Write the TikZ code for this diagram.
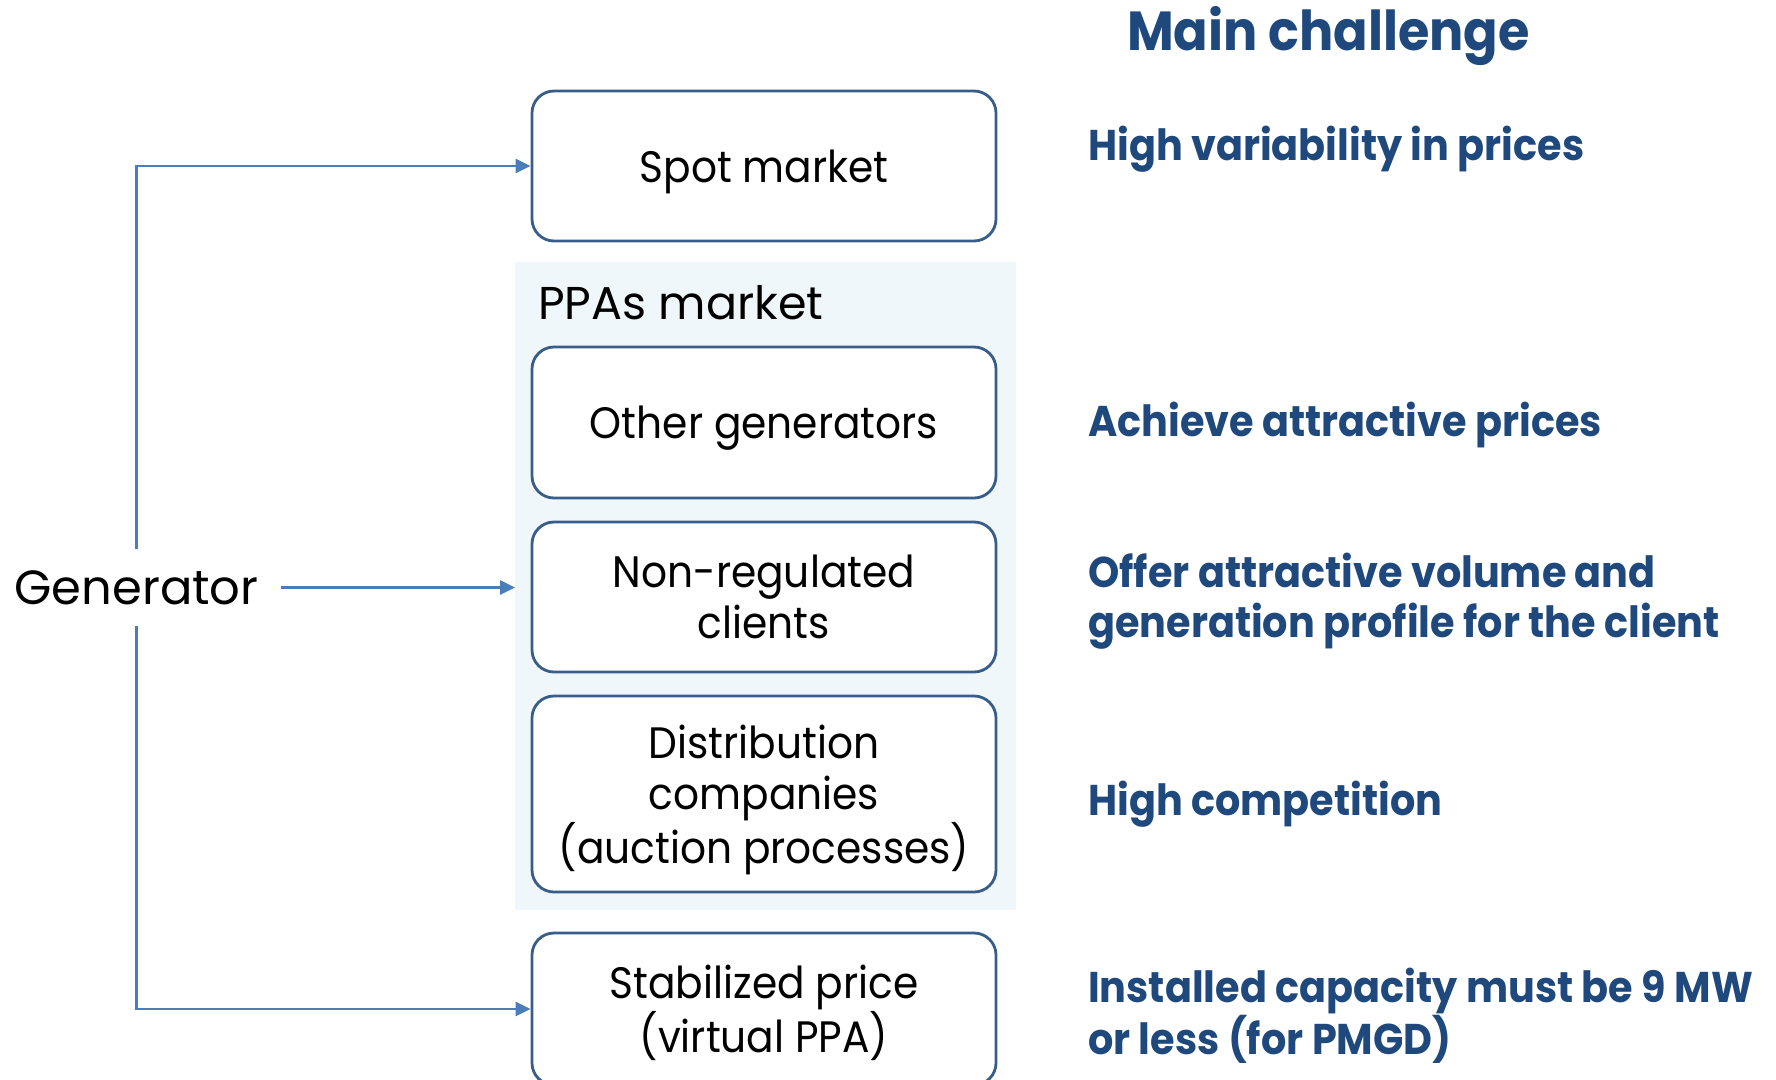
\documentclass[tikz,border=0pt]{standalone}
\usepackage{fontspec}
\setmainfont{Poppins}[FakeStretch=0.925]
\newfontfamily\widefont{Poppins}
\usetikzlibrary{arrows.meta}

\definecolor{linkblue}{HTML}{4A7EBB}
\definecolor{boxedge}{HTML}{385D8A}
\definecolor{notecol}{HTML}{1F497D}
\definecolor{ppafill}{HTML}{EFF7FA}

\begin{document}
\begin{tikzpicture}[x=1pt,y=-1pt,
  market/.style={draw=boxedge, line width=2.8pt, rounded corners=22pt,
    fill=white, minimum width=464pt, align=center, inner sep=0pt,
    text depth=0pt, font=\fontsize{44}{51}\selectfont},
  link/.style={draw=linkblue, line width=2.7pt,
    -{Triangle[length=15pt,width=14pt]}},
  challenge/.style={anchor=base west, text=notecol, inner sep=0pt,
    align=left, font=\bfseries\fontsize{43}{50}\selectfont}
]
\useasboundingbox (0,0) rectangle (1776,1079);
\clip (0,0) rectangle (1776,1079);

% shaded group of PPA counterparts
\node[fill=ppafill, anchor=north west, inner sep=0pt,
      minimum width=501pt, minimum height=648pt] (ppa) at (515,262) {};
\node[anchor=base west, inner sep=0pt, font=\widefont\fontsize{46}{52}\selectfont]
      (ppatitle) at (538,319) {PPAs market};

% market boxes
\node[market, minimum height=150pt] (spot)  at (764,166) {Spot market};
\node[market, minimum height=151pt] (other) at (764,422.5) {Other generators};
\node[market, minimum height=150pt] (nonreg) at (764,597) {Non-regulated\\clients};
\node[market, minimum height=196pt] (dist)  at (764,794) {Distribution\\companies\\(auction processes)};
\node[market, minimum height=152pt] (stab)  at (764,1009) {Stabilized price\\(virtual PPA)};

% seller
\node[inner sep=0pt, minimum width=289pt, minimum height=77pt,
      font=\widefont\fontsize{48}{56}\selectfont] (gen) at (136.6,587.5) {Generator};

% connectors
\draw[link] (gen.north) |- (spot.west);
\draw[link] (gen.east) -- (gen.east -| ppa.west);
\draw[link] (gen.south) |- (stab.west);

% challenges column (multi-line entries sit on their last baseline)
\node[anchor=base west, inner sep=0pt, text=notecol,
      font=\bfseries\fontsize{55}{60}\selectfont] (head) at (1127,50) {Main challenge};
\node[challenge] (c1) at (1088,160) {High variability in prices};
\node[challenge] (c2) at (1088,436) {Achieve attractive prices};
\node[challenge] (c3) at (1088,637.5) {Offer attractive volume and\\generation profile for the client};
\node[challenge] (c4) at (1088,815) {High competition};
\node[challenge] (c5) at (1088,1054.5) {Installed capacity must be 9 MW\\or less (for PMGD)};
\end{tikzpicture}
\end{document}
